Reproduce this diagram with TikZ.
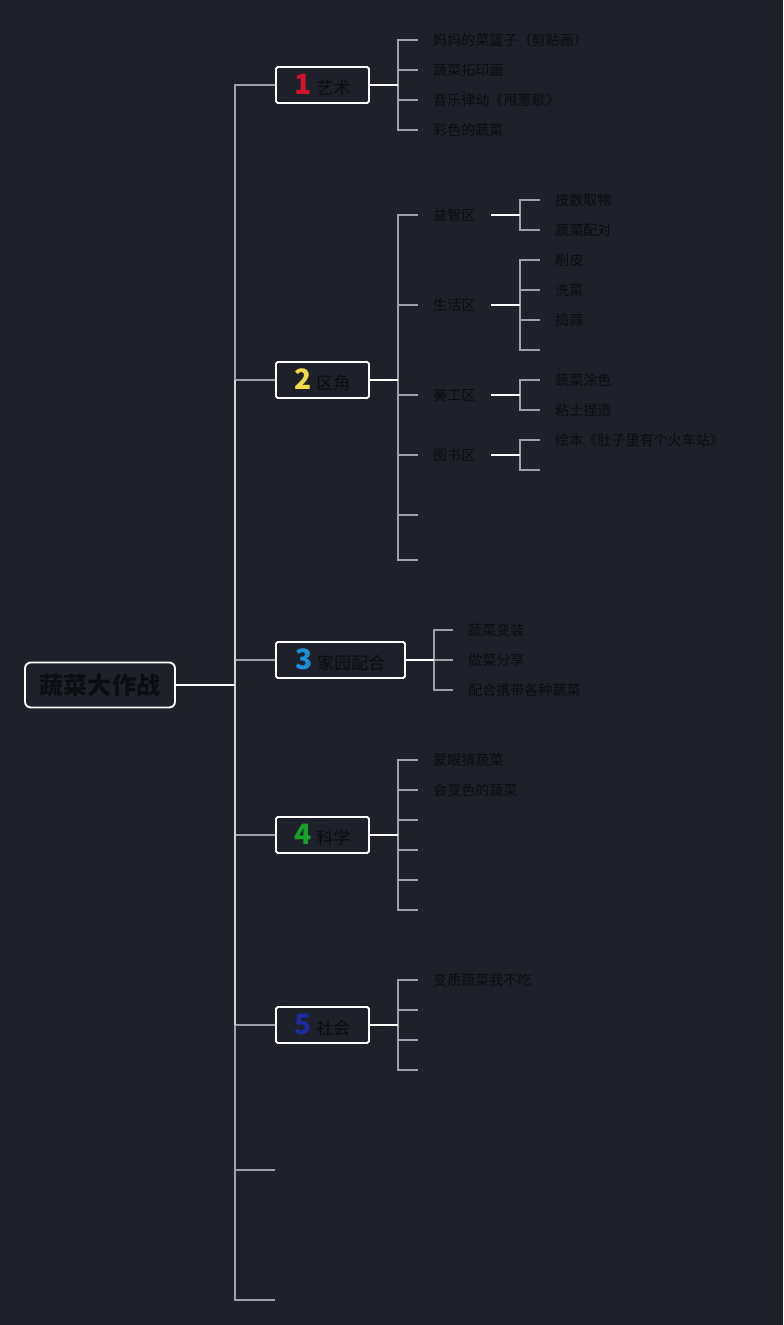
\documentclass[tikz,border=0pt]{standalone}
\usepackage{fontspec}
\setmainfont{Noto Sans CJK SC}

\definecolor{bgc}{HTML}{1E2129}
\definecolor{ink}{HTML}{0B0D10}
\definecolor{twiggray}{HTML}{9DA1A8}
\definecolor{trunklight}{HTML}{D2D4D8}
\definecolor{numred}{HTML}{D3122B}
\definecolor{numyellow}{HTML}{F0DA48}
\definecolor{numblue}{HTML}{1C8FD8}
\definecolor{numgreen}{HTML}{18A02A}
\definecolor{numnavy}{HTML}{1B2A9C}

\newcommand\topicnum[2]{\textcolor{#1}{\fontsize{24}{26}\selectfont\bfseries #2}\hspace{4pt}}

\begin{document}
\begin{tikzpicture}[x=0.03cm, y=-0.03cm,
  rootbox/.style={draw=white, line width=1.6pt, rounded corners=5pt, fill=bgc,
    minimum width=4.5cm, minimum height=1.35cm, text=ink,
    font=\fontsize{20.5}{24}\selectfont\bfseries},
  topicbox/.style={draw=white, line width=1.6pt, rounded corners=1.5pt, fill=bgc,
    anchor=west, minimum height=1.08cm, inner xsep=0pt, text=ink,
    font=\fontsize{14.5}{17}\selectfont},
  leaf/.style={anchor=west, inner xsep=0.45cm, inner ysep=0pt,
    text height=1em, text depth=0.05em, text=ink, font=\fontsize{12}{14}\selectfont},
  stub/.style={draw=white, line width=1.5pt},
  twig/.style={draw=twiggray, line width=1.5pt},
  trunkline/.style={draw=trunklight, line width=1.5pt},
]
  % Background
  \fill[bgc] (0,0) rectangle (783,1325);
  \useasboundingbox (0,0) rectangle (783,1325);

  % Root
  \node[rootbox] (root) at (100,685) {蔬菜大作战};
  \coordinate (trunk) at (235,685);

  % Topics
  \node[topicbox, minimum width=2.79cm] (art) at (275,85) {\topicnum{numred}{1}艺术};
  \node[topicbox, minimum width=2.79cm] (corner) at (275,380) {\topicnum{numyellow}{2}区角};
  \node[topicbox, minimum width=3.87cm] (home) at (275,660) {\topicnum{numblue}{3}家园配合};
  \node[topicbox, minimum width=2.79cm] (sci) at (275,835) {\topicnum{numgreen}{4}科学};
  \node[topicbox, minimum width=2.79cm] (soc) at (275,1025) {\topicnum{numnavy}{5}社会};
  \node[leaf, inner xsep=0pt] (blank6) at (275,1170) {};
  \node[leaf, inner xsep=0pt] (blank7) at (275,1300) {};

  % Trunk
  \foreach \t in {art,corner,home,sci,soc,blank6,blank7}
    \draw[twig] (trunk) |- (\t.west);
  \draw[trunkline] (trunk |- corner.west) -- (trunk |- soc.west);
  \draw[stub] (root.east) -- (trunk);

  % 1 art
  \coordinate (artj) at (398,85);
  \foreach \y/\txt [count=\i] in {40/妈妈的菜篮子（剪贴画）, 70/蔬菜拓印画,
      100/音乐律动《甩葱歌》, 130/彩色的蔬菜}
    \node[leaf] (art\i) at (418,\y) {\txt};
  \foreach \i in {1,...,4}
    \draw[twig] (artj) |- (art\i.west);
  \draw[stub] (art.east) -- (artj);

  % 2 corner
  \coordinate (cornerj) at (398,380);
  \node[leaf] (yz) at (418,215) {益智区};
  \node[leaf] (sh) at (418,305) {生活区};
  \node[leaf] (mg) at (418,395) {美工区};
  \node[leaf] (ts) at (418,455) {图书区};
  \node[leaf] (cn5) at (418,515) {};
  \node[leaf] (cn6) at (418,560) {};
  \foreach \t in {yz,sh,mg,ts,cn5,cn6}
    \draw[twig] (cornerj) |- (\t.west);
  \draw[stub] (corner.east) -- (cornerj);

  \coordinate (yzj) at (520,215);
  \node[leaf] (yz1) at (540,200) {按数取物};
  \node[leaf] (yz2) at (540,230) {蔬菜配对};

  \coordinate (shj) at (520,305);
  \node[leaf] (sh1) at (540,260) {削皮};
  \node[leaf] (sh2) at (540,290) {洗菜};
  \node[leaf] (sh3) at (540,320) {捣蒜};
  \node[leaf] (sh4) at (540,350) {};

  \coordinate (mgj) at (520,395);
  \node[leaf] (mg1) at (540,380) {蔬菜涂色};
  \node[leaf] (mg2) at (540,410) {粘土捏造};

  \coordinate (tsj) at (520,455);
  \node[leaf] (ts1) at (540,440) {绘本《肚子里有个火车站》};
  \node[leaf] (ts2) at (540,470) {};

  \foreach \t in {yz1,yz2} \draw[twig] (yzj) |- (\t.west);
  \foreach \t in {sh1,sh2,sh3,sh4} \draw[twig] (shj) |- (\t.west);
  \foreach \t in {mg1,mg2} \draw[twig] (mgj) |- (\t.west);
  \foreach \t in {ts1,ts2} \draw[twig] (tsj) |- (\t.west);
  \foreach \t in {yz,sh,mg,ts} \draw[stub] (\t.east) -- (\t j);

  % 3 home
  \coordinate (homej) at (434,660);
  \foreach \y/\txt [count=\i] in {630/蔬菜变装, 660/做菜分享, 690/配合携带各种蔬菜}
    \node[leaf] (home\i) at (453,\y) {\txt};
  \foreach \i in {1,...,3}
    \draw[twig] (homej) |- (home\i.west);
  \draw[stub] (home.east) -- (homej);

  % 4 science
  \coordinate (scij) at (398,835);
  \foreach \y/\txt [count=\i] in {760/蒙眼猜蔬菜, 790/会变色的蔬菜, 820/, 850/, 880/, 910/}
    \node[leaf] (sci\i) at (418,\y) {\txt};
  \foreach \i in {1,...,6}
    \draw[twig] (scij) |- (sci\i.west);
  \draw[stub] (sci.east) -- (scij);

  % 5 society
  \coordinate (socj) at (398,1025);
  \foreach \y/\txt [count=\i] in {980/变质蔬菜我不吃, 1010/, 1040/, 1070/}
    \node[leaf] (soc\i) at (418,\y) {\txt};
  \foreach \i in {1,...,4}
    \draw[twig] (socj) |- (soc\i.west);
  \draw[stub] (soc.east) -- (socj);
\end{tikzpicture}
\end{document}
